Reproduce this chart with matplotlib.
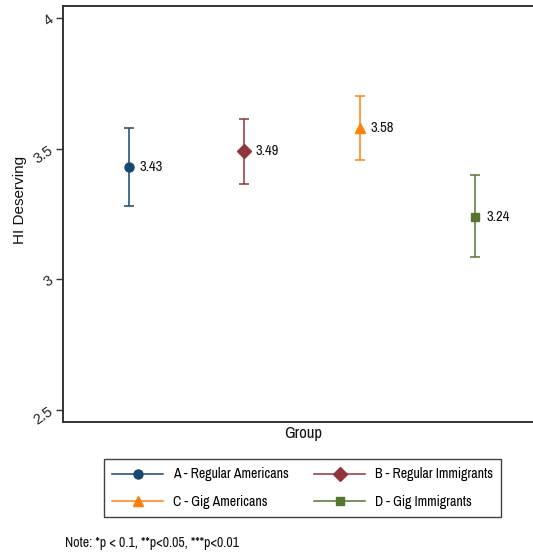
import matplotlib
matplotlib.use("Agg")
import matplotlib.pyplot as plt
from matplotlib.lines import Line2D

# -------------------------------------------------
# Data
# -------------------------------------------------
groups = ["A - Regular Americans", "B - Regular Immigrants",
          "C - Gig Americans", "D - Gig Immigrants"]
x_pos = [1, 2, 3, 4]
means = [3.43, 3.49, 3.58, 3.24]
ci_low = [3.28, 3.365, 3.458, 3.085]
ci_high = [3.58, 3.615, 3.702, 3.40]
yticks = [2.5, 3, 3.5, 4]
ytick_labels = ["2.5", "3", "3.5", "4"]

colors = ["#1a476f", "#90353b", "#ff7f0e", "#55752f"]
markers = ["o", "D", "^", "s"]
msizes = [6.5, 7, 7, 6]

narrow = ["Liberation Sans Narrow", "Archivo Narrow", "DejaVu Sans"]
regular = ["Liberation Sans", "Arimo", "DejaVu Sans"]

# -------------------------------------------------
# Figure
# -------------------------------------------------
fig = plt.figure(figsize=(5.33, 5.53), dpi=100)
ax = fig.add_axes([63 / 533, 1 - 422 / 553, 1 - 63 / 533, (422 - 6) / 553])

for i in range(len(groups)):
    err = [[means[i] - ci_low[i]], [ci_high[i] - means[i]]]
    ax.errorbar(x_pos[i], means[i], yerr=err, fmt=markers[i], color=colors[i],
                ms=msizes[i], elinewidth=1.1, capsize=3.5, capthick=1.1)
    ax.annotate(f"{means[i]:.2f}", (x_pos[i], means[i]), xytext=(8, 0),
                textcoords="offset points", va="center", ha="left",
                fontsize=10.5, family=narrow, color="#111111")

ax.set_xlim(0.43, 4.5)
ax.set_ylim(2.453, 4.047)
ax.set_xticks([])
ax.set_yticks(yticks)
ax.set_yticklabels(ytick_labels, rotation=35, fontsize=10.5, family=regular,
                   color="#222222", ha="right", va="center", rotation_mode="anchor")
ax.tick_params(axis="y", length=5, width=1, color="#333333", pad=3)

for side in ["left", "top", "bottom"]:
    ax.spines[side].set_linewidth(1.4)
    ax.spines[side].set_color("#333333")
ax.spines["right"].set_visible(False)

ax.set_ylabel("HI Deserving", fontsize=11, family=regular, color="#111111")
ax.yaxis.set_label_coords(-0.0766, 0.534)
ax.set_xlabel("Group", fontsize=12, family=narrow, color="#111111")
ax.xaxis.set_label_coords(0.51, -0.01)

# Legend (row-wise order: A B / C D)
handles = [Line2D([], [], color=colors[i], marker=markers[i], ms=msizes[i], lw=1.1)
           for i in range(len(groups))]
order = [0, 2, 1, 3]
leg = fig.legend([handles[i] for i in order], [groups[i] for i in order],
                 ncol=2, loc="center",
                 bbox_to_anchor=(302.5 / 533, 1 - 488 / 553),
                 prop={"family": narrow, "size": 10}, frameon=True,
                 fancybox=False, edgecolor="#111111", handlelength=3.7,
                 handletextpad=0.7, columnspacing=1.8, labelspacing=0.95,
                 borderpad=0.6)
leg.get_frame().set_linewidth(1.0)

fig.text(65 / 533, 1 - 543 / 553, "Note: *p < 0.1, **p<0.05, ***p<0.01",
         fontsize=10, family=narrow, va="center", ha="left", color="#111111")

fig.savefig("out.png", dpi=100)
